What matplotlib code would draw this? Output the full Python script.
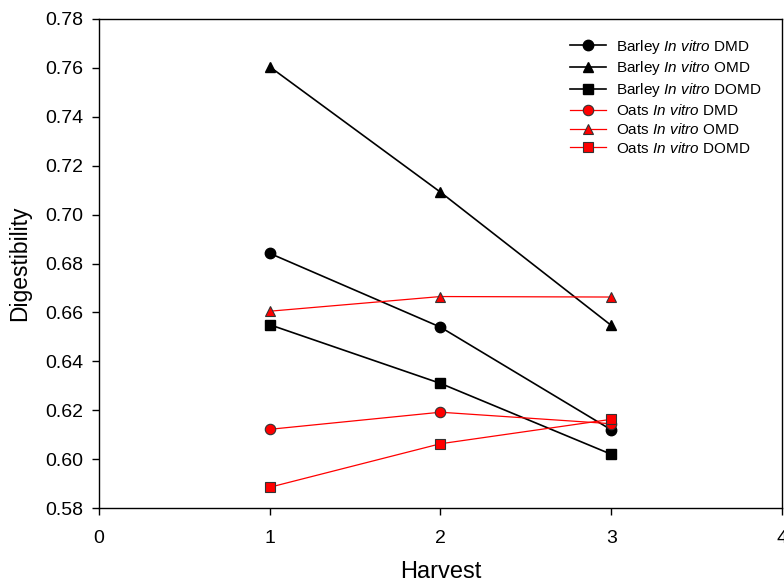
import numpy as np
import matplotlib.pyplot as plt

plt.rcParams['font.family'] = ['Liberation Sans', 'DejaVu Sans']
plt.rcParams['mathtext.fontset'] = 'custom'
plt.rcParams['mathtext.it'] = 'Liberation Sans:italic'
plt.rcParams['mathtext.rm'] = 'Liberation Sans'

harvest = [1, 2, 3]

barley_dmd = [0.6842, 0.6540, 0.6120]
barley_omd = [0.7605, 0.7092, 0.6547]
barley_domd = [0.6550, 0.6310, 0.6020]
oats_dmd = [0.6122, 0.6192, 0.6145]
oats_omd = [0.6605, 0.6665, 0.6663]
oats_domd = [0.5885, 0.6063, 0.6163]

series = [
    ("Barley $\\it{In\\ vitro}$ DMD", barley_dmd, 'o', 'black'),
    ("Barley $\\it{In\\ vitro}$ OMD", barley_omd, '^', 'black'),
    ("Barley $\\it{In\\ vitro}$ DOMD", barley_domd, 's', 'black'),
    ("Oats $\\it{In\\ vitro}$ DMD", oats_dmd, 'o', 'red'),
    ("Oats $\\it{In\\ vitro}$ OMD", oats_omd, '^', 'red'),
    ("Oats $\\it{In\\ vitro}$ DOMD", oats_domd, 's', 'red'),
]

fig = plt.figure(figsize=(7.84, 5.84), dpi=100)
ax = fig.add_axes([0.126, 0.130, 0.8715, 0.8375])

for label, vals, mk, col in series:
    if col == 'black':
        ax.plot(harvest, vals, color='black', lw=1.2, marker=mk, ms=7.5,
                mfc='black', mec='black', label=label)
    else:
        ax.plot(harvest, vals, color='red', lw=0.9, marker=mk, ms=7.5,
                mfc='red', mec='#333333', mew=0.8, label=label)

ax.set_xlim(0, 4)
ax.set_ylim(0.58, 0.78)
ax.set_xticks([0, 1, 2, 3, 4])
ax.set_yticks(np.arange(0.58, 0.781, 0.02))
ax.yaxis.set_major_formatter(plt.FormatStrFormatter('%.2f'))
ax.tick_params(direction='out', length=5, width=1, labelsize=14)
ax.tick_params(axis='y', pad=6)
ax.tick_params(axis='x', pad=11)
for s in ax.spines.values():
    s.set_linewidth(1)

ax.set_xlabel('Harvest', fontsize=17, labelpad=10)
ax.set_ylabel('Digestibility', fontsize=16.5, labelpad=10)

ax.legend(loc='upper right', bbox_to_anchor=(0.99, 0.99), frameon=False,
          fontsize=11, handlelength=2.4, labelspacing=0.25, handletextpad=0.65)

fig.savefig('out.png', dpi=100)
